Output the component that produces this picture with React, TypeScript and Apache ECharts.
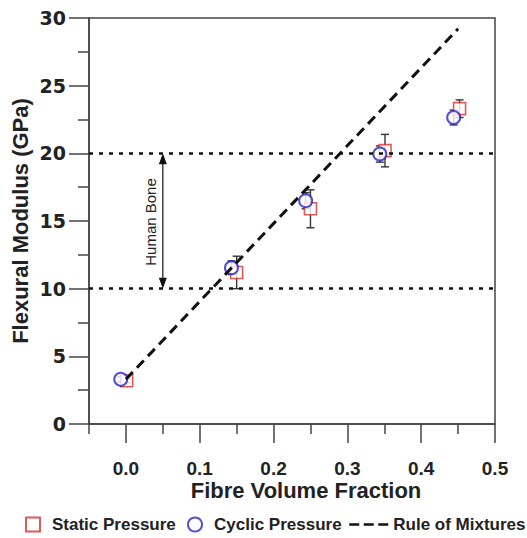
import React, { useEffect, useRef } from "react";
import * as echarts from "echarts";

// ---- data ----
const staticX = [0.001, 0.15, 0.25, 0.351, 0.452];
const staticY = [3.2, 11.2, 15.9, 20.2, 23.3];
const staticErr = [0.15, 1.2, 1.4, 1.2, 0.65];

const cyclicX = [-0.007, 0.143, 0.2435, 0.344, 0.444];
const cyclicY = [3.3, 11.55, 16.5, 19.95, 22.65];
const cyclicErr = [0.2, 0.5, 0.6, 0.6, 0.55];

const mixturesX = [0.0, 0.45];
const mixturesY = [3.3, 29.2];

const boneRange = [10, 20];
const boneArrowX = 0.05;

const xMajorTicks = [0, 0.1, 0.2, 0.3, 0.4, 0.5];
const xMinorTicks = [-0.05, 0.05, 0.15, 0.25, 0.35, 0.45];

const FONT = "'Liberation Sans', Arial, Helvetica, sans-serif";
const AXIS_COLOR = "#444";
const RED = "#d8302a";
const BLUE = "#2424c8";

function errorBarItem(color: string) {
  return (params: any, api: any) => {
    const x = api.value(0);
    const y = api.value(1);
    const e = api.value(2);
    const top = api.coord([x, y + e]);
    const bot = api.coord([x, y - e]);
    const hw = 4;
    const style = { stroke: color, lineWidth: 1.4 };
    return {
      type: "group",
      children: [
        { type: "line", shape: { x1: top[0], y1: top[1], x2: bot[0], y2: bot[1] }, style },
        { type: "line", shape: { x1: top[0] - hw, y1: top[1], x2: top[0] + hw, y2: top[1] }, style },
        { type: "line", shape: { x1: bot[0] - hw, y1: bot[1], x2: bot[0] + hw, y2: bot[1] }, style },
      ],
    };
  };
}

export default function App() {
  const ref = useRef<HTMLDivElement>(null);

  useEffect(() => {
    if (!ref.current) return;
    const chart = echarts.init(ref.current, null, { renderer: "svg" });

    const boneItem = (params: any, api: any) => {
      const x = api.value(0);
      const lo = api.value(1);
      const hi = api.value(2);
      const pTop = api.coord([x, hi]);
      const pBot = api.coord([x, lo]);
      const aw = 4;
      const al = 11;
      const style = { fill: "#111" };
      return {
        type: "group",
        children: [
          {
            type: "line",
            shape: { x1: pTop[0], y1: pTop[1] + al - 1, x2: pBot[0], y2: pBot[1] - al + 1 },
            style: { stroke: "#111", lineWidth: 1.2 },
          },
          {
            type: "polygon",
            shape: { points: [[pTop[0], pTop[1]], [pTop[0] - aw, pTop[1] + al], [pTop[0] + aw, pTop[1] + al]] },
            style,
          },
          {
            type: "polygon",
            shape: { points: [[pBot[0], pBot[1]], [pBot[0] - aw, pBot[1] - al], [pBot[0] + aw, pBot[1] - al]] },
            style,
          },
          {
            type: "text",
            x: pTop[0] - 12,
            y: (pTop[1] + pBot[1]) / 2 + 1,
            rotation: Math.PI / 2,
            style: {
              text: "Human Bone",
              fill: "#222",
              font: `15px ${FONT}`,
              textAlign: "center",
              textVerticalAlign: "middle",
            },
          },
        ],
      };
    };

    const legendText = {
      fontFamily: FONT,
      fontWeight: "bold" as const,
      fontSize: 17,
      color: "#222",
    };

    chart.setOption({
      animation: false,
      backgroundColor: "#fff",
      grid: {
        left: 89,
        right: 32,
        top: 18,
        bottom: 114,
        show: true,
        borderColor: AXIS_COLOR,
        borderWidth: 1.5,
        backgroundColor: "transparent",
      },
      xAxis: [
        {
          type: "value",
          min: -0.05,
          max: 0.5,
          position: "bottom",
          axisLine: { show: true, onZero: false, lineStyle: { color: AXIS_COLOR, width: 1.5 } },
          axisTick: { show: true, customValues: xMajorTicks, length: 19, lineStyle: { color: AXIS_COLOR, width: 1.5 } },
          axisLabel: {
            customValues: xMajorTicks,
            formatter: (v: number) => v.toFixed(1),
            margin: 35,
            fontFamily: FONT,
            fontWeight: "bold",
            fontSize: 19,
            color: "#222",
          },
          splitLine: { show: false },
        },
        {
          type: "value",
          min: -0.05,
          max: 0.5,
          position: "bottom",
          axisLine: { show: false, onZero: false },
          axisTick: { show: true, customValues: xMinorTicks, length: 10, lineStyle: { color: AXIS_COLOR, width: 1.5 } },
          axisLabel: { show: false },
          splitLine: { show: false },
        },
      ],
      yAxis: {
        type: "value",
        min: 0,
        max: 30,
        interval: 5,
        position: "left",
        axisLine: { show: true, onZero: false, lineStyle: { color: AXIS_COLOR, width: 1.5 } },
        axisTick: { show: true, length: 20, lineStyle: { color: AXIS_COLOR, width: 1.5 } },
        minorTick: { show: true, splitNumber: 2, length: 11, lineStyle: { color: AXIS_COLOR, width: 1.5 } },
        axisLabel: {
          margin: 23,
          fontFamily: "'DejaVu Sans', Verdana, sans-serif",
          fontWeight: "bold",
          fontSize: 19,
          color: "#222",
        },
        splitLine: { show: false },
      },
      legend: [
        {
          data: ["Static Pressure"],
          left: 25,
          top: 516,
          padding: 0,
          itemWidth: 14,
          itemHeight: 14,
          textStyle: { ...legendText, padding: [0, 0, 0, 7] },
        },
        {
          data: ["Cyclic Pressure"],
          left: 187,
          top: 516,
          padding: 0,
          itemWidth: 14,
          itemHeight: 14,
          textStyle: { ...legendText, padding: [0, 0, 0, 7] },
        },
        {
          data: ["Rule of Mixtures"],
          left: 348,
          top: 516,
          padding: 0,
          itemWidth: 39,
          itemHeight: 14,
          itemStyle: { opacity: 0 },
          lineStyle: { type: [10, 4.5], width: 2.5, color: "#111" },
          textStyle: { ...legendText },
        },
      ],
      graphic: [
        {
          type: "text",
          x: 20,
          y: 221,
          rotation: Math.PI / 2,
          style: {
            text: "Flexural Modulus (GPa)",
            font: `bold 22px ${FONT}`,
            fill: "#222",
            textAlign: "center",
            textVerticalAlign: "middle",
          },
        },
        {
          type: "text",
          x: 306,
          y: 490,
          style: {
            text: "Fibre Volume Fraction",
            font: `bold 22px ${FONT}`,
            fill: "#222",
            textAlign: "center",
            textVerticalAlign: "middle",
          },
        },
      ],
      series: [
        {
          name: "Human Bone",
          type: "custom",
          silent: true,
          renderItem: boneItem,
          data: [[boneArrowX, boneRange[0], boneRange[1]]],
          markLine: {
            silent: true,
            symbol: ["none", "none"],
            label: { show: false },
            lineStyle: { type: [4, 6], width: 2.5, color: "#111" },
            data: boneRange.map((v) => ({ yAxis: v })),
          },
        },
        {
          name: "Rule of Mixtures",
          type: "line",
          symbol: "none",
          color: "#111",
          lineStyle: { type: [10, 6], width: 3, color: "#111" },
          data: mixturesX.map((x, i) => [x, mixturesY[i]]),
        },
        {
          name: "Static Error",
          type: "custom",
          silent: true,
          renderItem: errorBarItem("#333"),
          data: staticX.map((x, i) => [x, staticY[i], staticErr[i]]),
        },
        {
          name: "Static Pressure",
          type: "scatter",
          symbol: "rect",
          symbolSize: 12,
          color: RED,
          itemStyle: { color: "#fff", borderColor: RED, borderWidth: 1.6 },
          data: staticX.map((x, i) => [x, staticY[i]]),
        },
        {
          name: "Cyclic Error",
          type: "custom",
          silent: true,
          renderItem: errorBarItem("#333"),
          data: cyclicX.map((x, i) => [x, cyclicY[i], cyclicErr[i]]),
        },
        {
          name: "Cyclic Pressure",
          type: "scatter",
          symbol: "circle",
          symbolSize: 13,
          color: BLUE,
          itemStyle: { color: "#fff", borderColor: BLUE, borderWidth: 2 },
          data: cyclicX.map((x, i) => [x, cyclicY[i]]),
        },
      ],
    });

    return () => chart.dispose();
  }, []);

  return (
    <div
      ref={ref}
      style={{ position: "absolute", left: 0, top: 0, width: 527, height: 538, background: "#fff" }}
    />
  );
}
